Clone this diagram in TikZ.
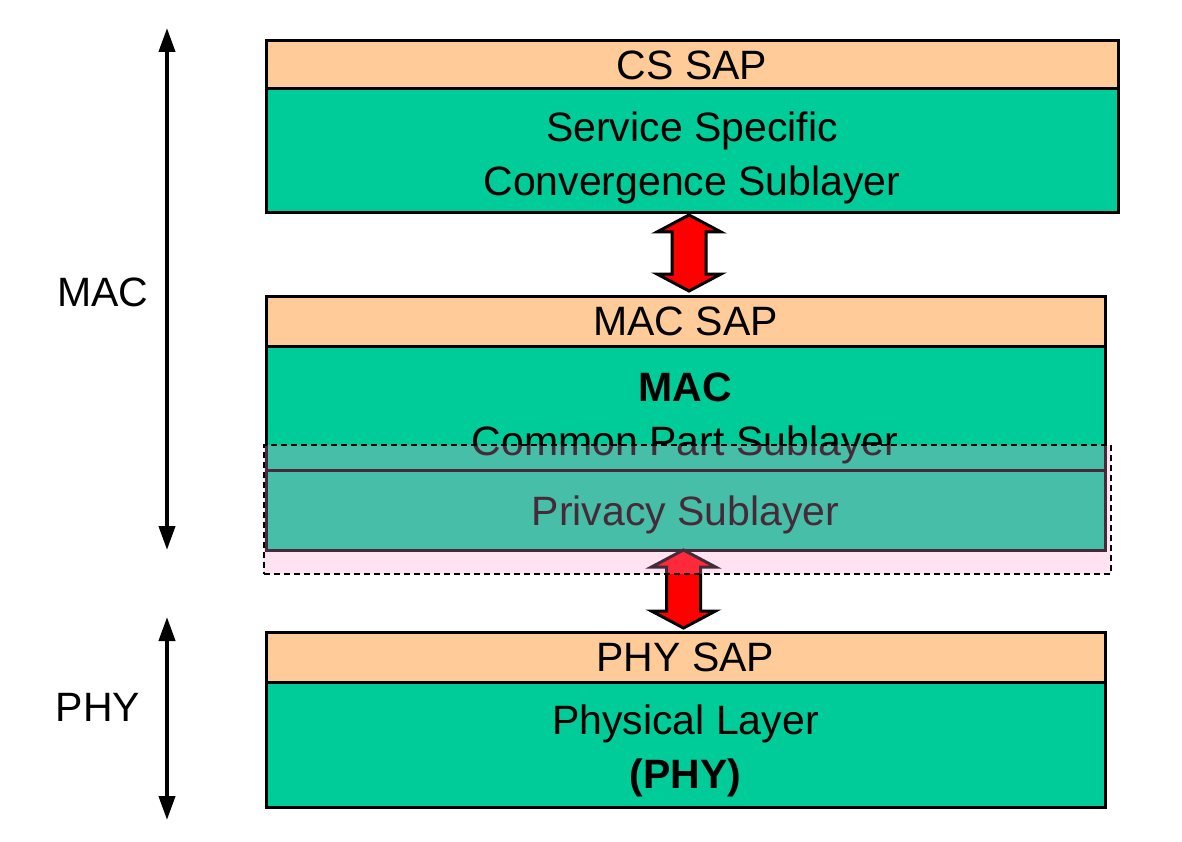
\documentclass[tikz,border=0pt]{standalone}
\usepackage{fontspec}
\setmainfont{Liberation Sans}
\usetikzlibrary{calc,arrows.meta}
\definecolor{sapc}{RGB}{255,204,153}
\definecolor{greenc}{RGB}{0,204,153}
\definecolor{ovl}{RGB}{255,154,207}
\tikzset{
  box/.style={draw=black, line width=3pt, anchor=north west, inner sep=0pt, outer sep=0pt},
  sap/.style={box, fill=sapc},
  grn/.style={box, fill=greenc},
  lbl/.style={font=\fontsize{41}{54}\selectfont, align=center, inner sep=0pt},
  barrow/.style={draw=black, fill=red, line width=3pt, line join=miter},
  varrow/.style={line width=4pt, {Triangle[width=16pt,length=24pt]}-{Triangle[width=16pt,length=24pt]}},
  overlay/.style={draw=black, dash pattern=on 6pt off 4pt, line width=1.5pt, fill=ovl, fill opacity=0.28}
}
\newcommand\blockarr[2]{%
  \path let \p1=(#1), \p2=(#2) in
  [barrow] (\x1,\y1) -- (\x1+32pt,\y1-17pt) -- (\x1+17pt,\y1-17pt) -- (\x1+17pt,\y2+17pt)
  -- (\x1+32pt,\y2+17pt) -- (\x1,\y2) -- (\x1-32pt,\y2+17pt) -- (\x1-17pt,\y2+17pt)
  -- (\x1-17pt,\y1-17pt) -- (\x1-32pt,\y1-17pt) -- cycle;}
\begin{document}
\begin{tikzpicture}[x=1pt,y=-1pt]
\useasboundingbox (0,0) rectangle (1182,842);
% block 1
\node[grn, minimum width=852pt, minimum height=124pt] (g1) at (266,89) {};
\node[sap, minimum width=852pt, minimum height=48pt] (sap1) at (266,41) {};
\node[lbl] (t1) at (sap1.center) {CS SAP};
\node[lbl] (t2) at ($(g1.center)+(0,7)$) {Service Specific\\Convergence Sublayer};
% block 2
\node[grn, minimum width=839pt, minimum height=204pt] (g2) at (266,346) {};
\node[sap, minimum width=839pt, minimum height=50pt] (sap2) at (266,296) {};
\node[lbl] (t3) at (sap2.center) {MAC SAP};
\node[lbl] (t4) at (685,418) {\textbf{MAC}\\Common Part Sublayer};
\node[grn, minimum width=839pt, minimum height=80pt] (priv) at (266,470) {};
\node[lbl] (t5) at ($(priv.center)+(0,5)$) {Privacy Sublayer};
% block 3
\node[grn, minimum width=839pt, minimum height=125pt] (g3) at (266,682) {};
\node[sap, minimum width=839pt, minimum height=50pt] (sap3) at (266,632) {};
\node[lbl] (t6) at (sap3.center) {PHY SAP};
\node[lbl] (t7) at ($(g3.center)+(0,6)$) {Physical Layer\\\textbf{(PHY)}};
% block arrows
\coordinate (a1t) at ([xshift=-3pt,yshift=-2pt]g1.south);
\coordinate (a1b) at ([xshift=-3pt,yshift=5pt]sap2.north);
\blockarr{a1t}{a1b}
\coordinate (a2t) at ([xshift=-2pt]priv.south);
\coordinate (a2b) at ([xshift=-2pt,yshift=4pt]sap3.north);
\blockarr{a2t}{a2b}
% left arrows
\coordinate (m1) at (167,28);
\coordinate (m2) at (167,550);
\draw[varrow] (m1) -- (m2);
\node[lbl] (mac) at (103,292) {MAC};
\coordinate (p1) at (167,617);
\coordinate (p2) at (167,820);
\draw[varrow] (p1) -- (p2);
\node[lbl] (phy) at (98,707) {PHY};
% overlay
\node[overlay, anchor=north west, minimum width=847pt, minimum height=129pt, inner sep=0pt] (ov) at (263,444) {};
\end{tikzpicture}
\end{document}
